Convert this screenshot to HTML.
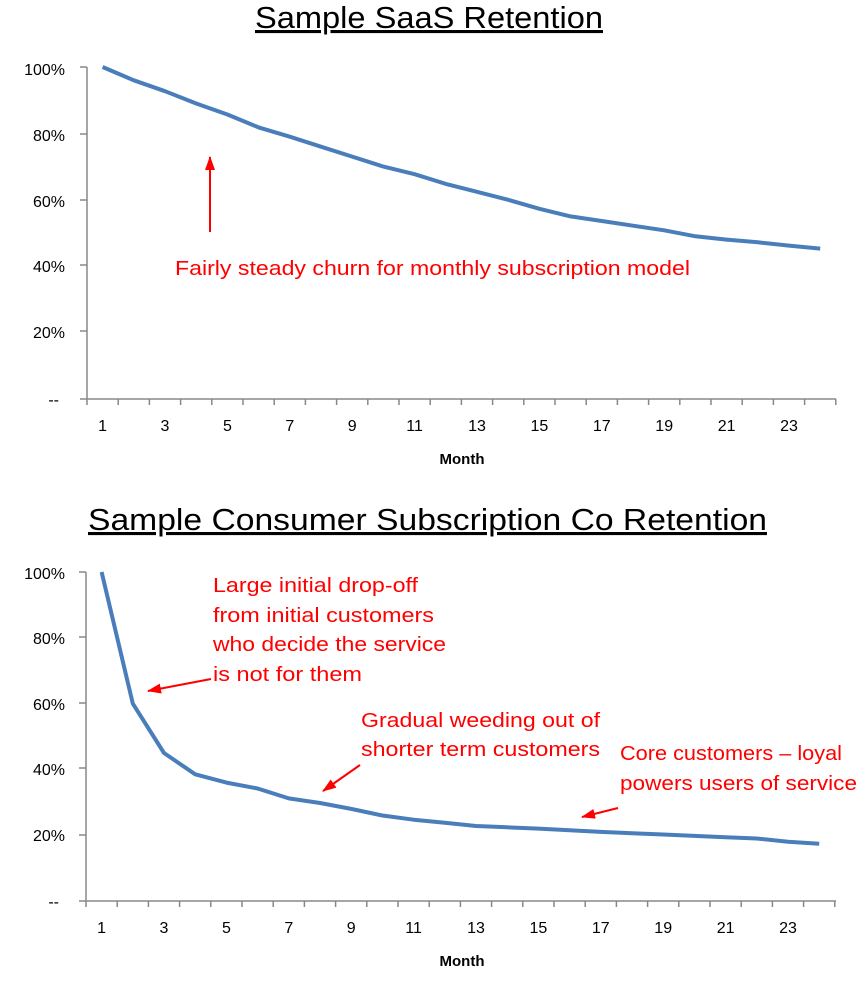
<!DOCTYPE html>
<html><head><meta charset="utf-8"><style>
body{margin:0;background:#fff;}
svg{display:block;font-family:"Liberation Sans",Calibri,sans-serif;}
</style></head><body>
<svg width="862" height="999" viewBox="0 0 862 999" xmlns="http://www.w3.org/2000/svg">
<defs><marker id="ah" markerWidth="14" markerHeight="10" refX="13" refY="5" orient="auto" markerUnits="userSpaceOnUse"><path d="M0,0 L14,5 L0,10 z" fill="#f00"/></marker></defs>
<!-- Top chart -->
<text x="255" y="28" font-size="31" fill="#000" text-decoration="underline" textLength="348" lengthAdjust="spacingAndGlyphs">Sample SaaS Retention</text>
<g stroke="#888" stroke-width="1.5" fill="none">
<line x1="87" y1="67" x2="87" y2="399"/>
<line x1="80" y1="399" x2="836" y2="399"/>
<line x1="80" y1="67" x2="87" y2="67"/><line x1="80" y1="134" x2="87" y2="134"/><line x1="80" y1="200" x2="87" y2="200"/><line x1="80" y1="265" x2="87" y2="265"/><line x1="80" y1="331" x2="87" y2="331"/>
</g>
<g id="xt1" stroke="#888" stroke-width="1.5"></g>
<g font-size="16" fill="#000" text-anchor="end">
<text x="65" y="75">100%</text><text x="65" y="141">80%</text><text x="65" y="207">60%</text><text x="65" y="272">40%</text><text x="65" y="338">20%</text><text x="59" y="405">--</text>
</g>
<g font-size="16" fill="#000" text-anchor="middle" id="xl1"></g>
<text x="462" y="464" font-size="15" font-weight="bold" text-anchor="middle">Month</text>
<polyline id="p1" fill="none" stroke="#4a7ebb" stroke-width="4" stroke-linejoin="round"/>
<line x1="210" y1="232" x2="210" y2="157" stroke="#f00" stroke-width="2" marker-end="url(#ah)"/>
<text x="175" y="275" font-size="20" fill="#f00" textLength="515" lengthAdjust="spacingAndGlyphs">Fairly steady churn for monthly subscription model</text>

<!-- Bottom chart -->
<text x="88" y="530" font-size="31" fill="#000" text-decoration="underline" textLength="679" lengthAdjust="spacingAndGlyphs">Sample Consumer Subscription Co Retention</text>
<g stroke="#888" stroke-width="1.5" fill="none">
<line x1="86" y1="572" x2="86" y2="901"/>
<line x1="79" y1="901" x2="836" y2="901"/>
<line x1="79" y1="572" x2="86" y2="572"/><line x1="79" y1="637" x2="86" y2="637"/><line x1="79" y1="703" x2="86" y2="703"/><line x1="79" y1="768" x2="86" y2="768"/><line x1="79" y1="835" x2="86" y2="835"/>
</g>
<g id="xt2" stroke="#888" stroke-width="1.5"></g>
<g font-size="16" fill="#000" text-anchor="end">
<text x="65" y="579">100%</text><text x="65" y="644">80%</text><text x="65" y="710">60%</text><text x="65" y="775">40%</text><text x="65" y="841">20%</text><text x="59" y="907">--</text>
</g>
<g font-size="16" fill="#000" text-anchor="middle" id="xl2"></g>
<text x="462" y="966" font-size="15" font-weight="bold" text-anchor="middle">Month</text>
<polyline id="p2" fill="none" stroke="#4a7ebb" stroke-width="4" stroke-linejoin="round"/>
<g font-size="20" fill="#f00" lengthAdjust="spacingAndGlyphs">
<text x="213" y="592" textLength="205" lengthAdjust="spacingAndGlyphs">Large initial drop-off</text>
<text x="213" y="622" textLength="221" lengthAdjust="spacingAndGlyphs">from initial customers</text>
<text x="213" y="651" textLength="233" lengthAdjust="spacingAndGlyphs">who decide the service</text>
<text x="213" y="681" textLength="149" lengthAdjust="spacingAndGlyphs">is not for them</text>
<text x="361" y="727" textLength="239" lengthAdjust="spacingAndGlyphs">Gradual weeding out of</text>
<text x="361" y="756" textLength="239" lengthAdjust="spacingAndGlyphs">shorter term customers</text>
<text x="620" y="760" textLength="222" lengthAdjust="spacingAndGlyphs">Core customers – loyal</text>
<text x="620" y="790" textLength="237" lengthAdjust="spacingAndGlyphs">powers users of service</text>
</g>
<g stroke="#f00" stroke-width="2">
<line x1="211" y1="679" x2="148" y2="691" marker-end="url(#ah)"/>
<line x1="360" y1="765" x2="323" y2="791" marker-end="url(#ah)"/>
<line x1="618" y1="808" x2="582" y2="817" marker-end="url(#ah)"/>
</g>
</svg>
<script>
(function(){
var ns="http://www.w3.org/2000/svg",sp=31.2;
function build(tid,lid,x0,y0,yb,lh,data,ytop,id){
 var t=document.getElementById(tid),l=document.getElementById(lid);
 for(var i=0;i<=24;i++){var e=document.createElementNS(ns,"line");var x=x0+i*sp;
  e.setAttribute("x1",x);e.setAttribute("x2",x);e.setAttribute("y1",yb);e.setAttribute("y2",yb+6);t.appendChild(e);}
 for(var k=1;k<=23;k+=2){var s=document.createElementNS(ns,"text");s.setAttribute("x",x0+(k-0.5)*sp);s.setAttribute("y",yb+32);s.textContent=k;l.appendChild(s);}
 var pts=data.map(function(v,i){return (x0+(i+0.5)*sp).toFixed(1)+","+(yb-(yb-ytop)*v/100).toFixed(1);});
 document.getElementById(id).setAttribute("points",pts.join(" "));
}
build("xt1","xl1",87,0,399,0,[100,96,92.7,89,85.7,81.8,79,76,73,70,67.7,64.8,62.4,60,57.3,55,53.6,52.2,50.8,49,48,47.2,46.2,45.3],67,"p1");
build("xt2","xl2",86,0,901,0,[100,60,45,38.5,36,34.2,31.2,29.8,28,26,24.7,23.8,22.8,22.4,22,21.5,21,20.6,20.2,19.8,19.4,19,18,17.4],572,"p2");
})();
</script>
</body></html>
